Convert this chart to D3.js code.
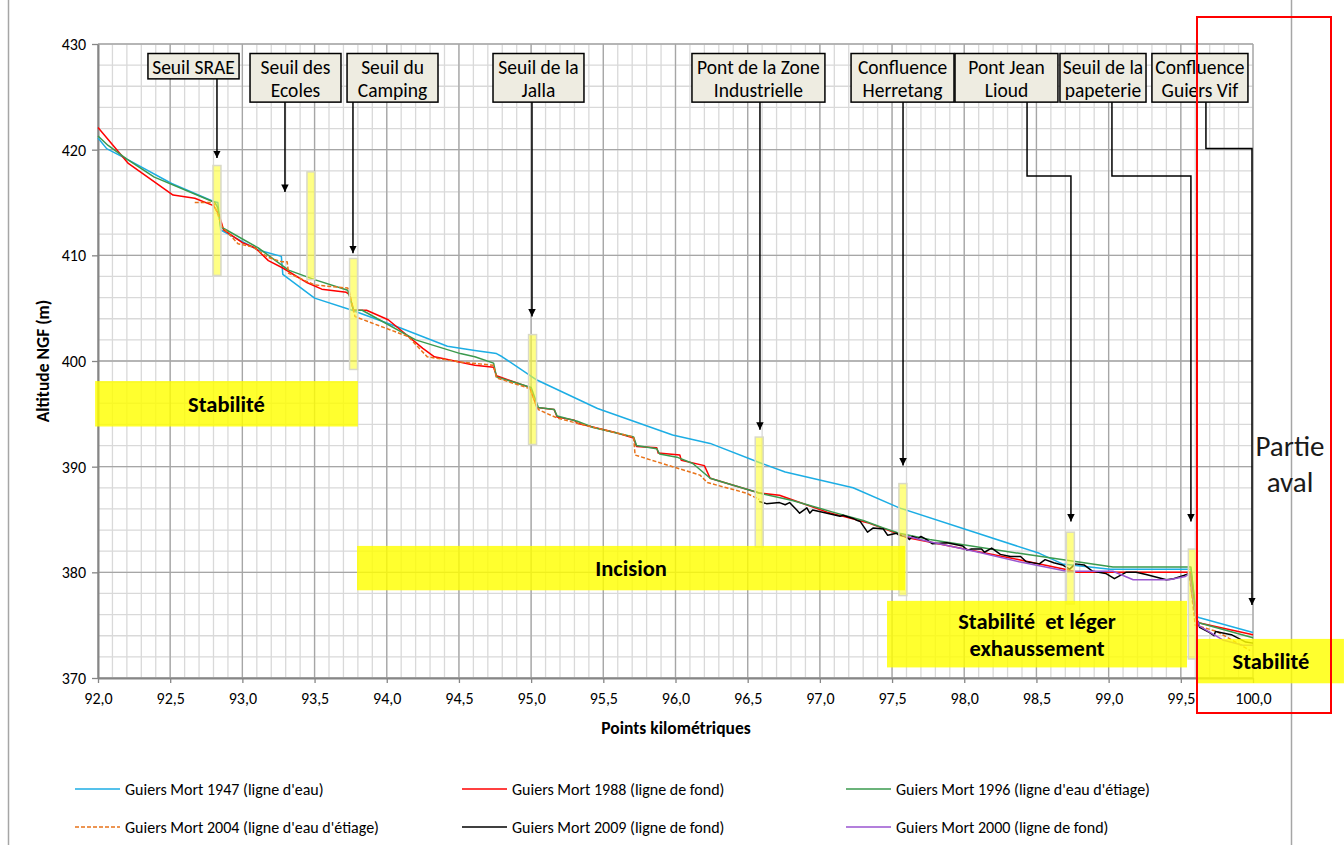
<!DOCTYPE html>
<html>
<head>
<meta charset="utf-8">
<script src="https://cdn.jsdelivr.net/npm/d3@7"></script>
<style>
  html, body { margin: 0; padding: 0; background: #fff; }
  svg { display: block; font-family: Carlito, Calibri, Lato, "Open Sans", sans-serif; }
</style>
</head>
<body>
<svg id="chart" width="1344" height="845"></svg>
<script>
// Longitudinal profile of the Guiers Mort: [km, altitude NGF (m)]
const s1947 = [[92.00,421.1],[92.06,420.1],[92.20,419.1],[92.51,416.8],[92.80,415.1],[92.83,415.0],[92.85,412.4],[92.89,412.1],[93.11,410.5],[93.27,409.9],[93.28,408.2],[93.50,405.95],[93.76,404.8],[94.10,403.1],[94.42,401.4],[94.61,401.0],[94.76,400.7],[94.80,400.4],[95.04,398.2],[95.46,395.5],[95.98,393.0],[96.24,392.2],[96.58,390.4],[96.76,389.5],[97.23,388.0],[97.55,386.1],[98.52,381.8],[98.68,380.8],[99.01,380.3],[99.57,380.3],[99.61,375.8],[99.63,375.7],[100.0,374.3]];
const s1988 = [[92.00,422.1],[92.21,418.7],[92.52,415.7],[92.67,415.4],[92.80,414.7],[92.84,413.8],[92.87,412.4],[93.00,411.2],[93.09,410.7],[93.18,409.5],[93.28,408.8],[93.45,407.4],[93.55,406.8],[93.72,406.5],[93.74,406.3],[93.77,404.8],[93.86,404.8],[94.01,403.9],[94.25,401.2],[94.33,400.4],[94.61,399.6],[94.74,399.4],[94.76,398.6],[94.99,397.5],[95.04,395.6],[95.16,395.4],[95.18,394.7],[95.30,394.4],[95.32,394.1],[95.59,393.2],[95.71,392.7],[95.73,391.9],[95.87,391.8],[95.88,391.3],[96.03,391.1],[96.04,390.6],[96.20,390.1],[96.24,388.9],[96.36,388.4],[96.58,387.5],[96.72,387.3],[97.05,385.7],[97.33,384.7],[97.55,383.6],[97.60,383.3],[98.38,381.2],[98.73,380.2],[98.78,380.0],[99.57,380.0],[99.61,375.4],[99.63,375.2],[100.0,374.1]];
const s1996 = [[92.00,421.3],[92.07,420.4],[92.20,419.1],[92.39,417.4],[92.81,415.0],[92.83,414.5],[92.85,412.7],[92.89,412.4],[93.11,410.7],[93.32,408.6],[93.50,407.7],[93.73,406.7],[93.77,404.8],[93.83,404.8],[94.20,402.0],[94.51,400.7],[94.61,400.4],[94.74,399.8],[94.76,398.5],[95.00,397.5],[95.05,395.6],[95.16,395.4],[95.18,394.8],[95.32,394.3],[95.43,393.7],[95.71,392.8],[95.73,392.0],[95.87,391.7],[95.89,391.2],[96.01,390.9],[96.12,390.3],[96.24,388.9],[96.36,388.4],[96.58,387.5],[96.81,386.8],[97.09,385.7],[97.30,384.9],[97.44,384.2],[97.55,383.7],[97.76,383.1],[98.38,381.8],[99.03,380.5],[99.57,380.5],[99.61,375.4],[99.63,375.2],[100.0,373.8]];
const s2004 = [[92.67,415.0],[92.80,415.0],[92.86,412.7],[92.97,411.1],[93.07,410.8],[93.18,409.8],[93.27,409.4],[93.31,409.4],[93.32,408.3],[93.50,407.2],[93.73,406.9],[93.74,406.6],[93.78,404.2],[94.15,402.3],[94.28,400.4],[94.51,399.9],[94.74,399.6],[94.76,398.4],[94.99,397.4],[95.05,395.4],[95.18,394.6],[95.32,394.1],[95.71,392.8],[95.72,391.1],[95.98,390.0],[96.17,389.2],[96.22,388.5],[96.49,387.5],[96.58,386.9],[96.60,null],[99.55,null],[99.56,379.6],[99.60,375.0],[99.75,374.4],[99.98,372.6]];
const s2009 = [[96.58,386.7],[96.63,386.5],[96.72,386.6],[96.76,386.4],[96.79,386.6],[96.84,385.9],[96.86,385.6],[96.91,386.1],[96.93,385.6],[96.95,385.9],[97.05,385.6],[97.14,385.3],[97.16,385.4],[97.23,385.1],[97.26,384.9],[97.28,384.8],[97.33,383.8],[97.37,384.2],[97.44,384.1],[97.47,383.5],[97.53,383.7],[97.55,383.5],[97.60,383.4],[97.62,383.1],[97.64,383.4],[97.68,383.2],[97.70,383.4],[97.74,383.1],[97.78,382.7],[97.88,382.8],[97.99,382.5],[98.02,382.1],[98.05,382.2],[98.12,382.2],[98.14,381.9],[98.19,382.3],[98.25,381.7],[98.32,381.5],[98.39,381.5],[98.43,381.0],[98.52,380.8],[98.56,381.2],[98.62,380.9],[98.68,380.7],[98.73,380.3],[98.77,380.8],[98.83,380.7],[98.89,380.1],[98.98,379.9],[99.04,379.4],[99.12,380.0],[99.19,380.0],[99.26,379.8],[99.40,379.3],[99.45,379.4],[99.52,379.7],[99.56,379.9],[99.60,376.0],[99.63,374.8],[99.70,374.3],[99.73,374.0],[99.74,374.4],[99.85,374.1],[99.95,373.4],[100.0,373.3]];
const s2000 = [[97.57,383.5],[97.76,382.9],[98.10,381.9],[98.38,381.0],[98.71,380.1],[99.03,380.1],[99.10,379.7],[99.17,379.3],[99.42,379.3],[99.53,379.6],[99.56,379.9],[99.60,376.0],[99.63,374.9],[99.79,373.6],[99.93,373.1],[100.0,373.1]];

const seriesNames = ["Guiers Mort 1947 (ligne d'eau)", "Guiers Mort 1988 (ligne de fond)", "Guiers Mort 1996 (ligne d'eau d'étiage)",
                     "Guiers Mort 2004 (ligne d'eau d'étiage)", "Guiers Mort 2009 (ligne de fond)", "Guiers Mort 2000 (ligne de fond)"];
const seriesData = [s1947, s1988, s1996, s2004, s2009, s2000];
const seriesColors = ["#1CADE4", "#FF0000", "#3A9A4E", "#E8731A", "#000000", "#9A55D0"];
const seriesDash = [null, null, null, "4,2", null, null];

// Axis ticks
const xMajor = d3.range(92, 100.001, 0.5);
const xMinor = d3.range(92, 100.001, 0.1);
const yMajor = d3.range(370, 430.001, 10);
const yMinor = d3.range(370, 430.001, 2);

// Named sites along the river: label lines, box extent (km, altitude), connector path
const sites = [
  { lines: ["Seuil SRAE"], x0: 92.346, x1: 92.977, y0: 429.1, y1: 426.7, path: [[92.824, 426.7], [92.824, 419.2]] },
  { lines: ["Seuil des", "Ecoles"], x0: 93.053, x1: 93.683, y0: 429.1, y1: 424.5, path: [[93.295, 424.5], [93.295, 416.0]] },
  { lines: ["Seuil du", "Camping"], x0: 93.725, x1: 94.355, y0: 429.1, y1: 424.5, path: [[93.766, 424.5], [93.766, 410.2]] },
  { lines: ["Seuil de la", "Jalla"], x0: 94.736, x1: 95.366, y0: 429.1, y1: 424.5, path: [[95.006, 424.5], [95.006, 404.2]] },
  { lines: ["Pont de la Zone", "Industrielle"], x0: 96.114, x1: 97.035, y0: 429.1, y1: 424.5, path: [[96.585, 424.5], [96.585, 393.5]] },
  { lines: ["Confluence", "Herretang"], x0: 97.216, x1: 97.929, y0: 429.1, y1: 424.5, path: [[97.576, 424.5], [97.576, 390.1]] },
  { lines: ["Pont Jean", "Lioud"], x0: 97.936, x1: 98.649, y0: 429.1, y1: 424.5, path: [[98.435, 424.5], [98.435, 417.5], [98.739, 417.5], [98.739, 384.8]] },
  { lines: ["Seuil de la", "papeterie"], x0: 98.663, x1: 99.259, y0: 429.1, y1: 424.5, path: [[99.023, 424.5], [99.023, 417.5], [99.570, 417.5], [99.570, 384.8]] },
  { lines: ["Confluence", "Guiers Vif"], x0: 99.300, x1: 99.965, y0: 429.1, y1: 424.5, path: [[99.674, 424.5], [99.674, 420.1], [99.993, 420.1], [99.993, 376.9]] }
];

// Structure markers: [km, top altitude, bottom altitude]
const weirs = [[92.824, 418.5, 408.1], [93.475, 417.9, 407.7], [93.77, 409.7, 399.2], [95.01, 402.5, 392.1],
               [96.58, 392.8, 382.4], [97.575, 388.4, 377.8], [98.735, 383.8, 377.0], [99.58, 382.2, 371.8]];

// Reach diagnosis zones: extent in km / altitude and text lines
const zones = [
  { lines: ["Stabilité"], x0: 91.98, x1: 93.80, y0: 398.1, y1: 393.8 },
  { lines: ["Incision"], x0: 93.794, x1: 97.59, y0: 382.5, y1: 378.3 },
  { lines: ["Stabilité  et léger", "exhaussement"], x0: 97.465, x1: 99.543, y0: 377.3, y1: 371.0 },
  { lines: ["Stabilité"], x0: 99.619, x1: 100.63, y0: 373.7, y1: 369.5 }
];

const svg = d3.select("#chart");
const x = d3.scaleLinear().domain([92, 100]).range([98, 1253]);
const y = d3.scaleLinear().domain([370, 430]).range([678, 44]);
const fmt = v => d3.format(".1f")(v).replace(".", ",");

// Chart frame sides
svg.append("line").attr("x1", 8.5).attr("x2", 8.5).attr("y1", 0).attr("y2", 845).attr("stroke", "#a6a6a6").attr("stroke-width", 1.5);
svg.append("line").attr("x1", 1291.5).attr("x2", 1291.5).attr("y1", 0).attr("y2", 845).attr("stroke", "#a6a6a6").attr("stroke-width", 1.5);

// Grid
const grid = svg.append("g");
grid.selectAll(".vmin").data(xMinor).join("line")
  .attr("x1", d => x(d)).attr("x2", d => x(d)).attr("y1", y(430)).attr("y2", y(370))
  .attr("stroke", "#d9d9d9").attr("stroke-width", 1.3);
grid.selectAll(".hmin").data(yMinor).join("line")
  .attr("x1", x(92)).attr("x2", x(100)).attr("y1", d => y(d)).attr("y2", d => y(d))
  .attr("stroke", "#d9d9d9").attr("stroke-width", 1.3);
grid.selectAll(".vmaj").data(xMajor).join("line")
  .attr("x1", d => x(d)).attr("x2", d => x(d)).attr("y1", y(430)).attr("y2", y(370))
  .attr("stroke", "#a6a6a6").attr("stroke-width", 1.3);
grid.selectAll(".hmaj").data(yMajor).join("line")
  .attr("x1", x(92)).attr("x2", x(100)).attr("y1", d => y(d)).attr("y2", d => y(d))
  .attr("stroke", "#a6a6a6").attr("stroke-width", 1.3);

// Axes
const xAxis = svg.append("g").attr("transform", `translate(0,${y(370)})`)
  .call(d3.axisBottom(x).tickValues(xMajor).tickFormat(fmt).tickSize(5).tickSizeOuter(0));
const yAxis = svg.append("g").attr("transform", `translate(${x(92)},0)`)
  .call(d3.axisLeft(y).tickValues(yMajor).tickFormat(d3.format("d")).tickSize(6).tickSizeOuter(0));
[xAxis, yAxis].forEach(a => {
  a.select(".domain").attr("stroke", "#868686").attr("stroke-width", 2);
  a.selectAll(".tick line").attr("stroke", "#868686").attr("stroke-width", 1.3);
  a.selectAll("text").attr("font-size", 16).attr("fill", "#000").attr("font-family", "Carlito, Calibri, Lato, sans-serif");
});
xAxis.selectAll("text").attr("y", 20).attr("dy", "0.35em");
yAxis.selectAll("text").attr("x", -12).attr("dy", "0.35em");

svg.append("text").attr("x", 676).attr("y", 734).attr("text-anchor", "middle")
  .attr("font-size", 17.5).attr("font-weight", "bold").text("Points kilométriques");
svg.append("text").attr("transform", `translate(49,${y(400)}) rotate(-90)`).attr("text-anchor", "middle")
  .attr("font-size", 17.5).attr("font-weight", "bold").text("Altitude NGF (m)");

// Profiles
const line = d3.line().defined(d => d[1] !== null).x(d => x(d[0])).y(d => y(d[1]));
const lines = svg.append("g").attr("fill", "none");
seriesData.forEach((s, i) => {
  lines.append("path").datum(s).attr("d", line)
    .attr("stroke", seriesColors[i]).attr("stroke-width", 1.5)
    .attr("stroke-dasharray", seriesDash[i]).attr("stroke-linejoin", "round");
});

// Structure markers
svg.append("g").selectAll("rect").data(weirs).join("rect")
  .attr("x", d => x(d[0]) - 4).attr("width", 8)
  .attr("y", d => y(d[1])).attr("height", d => y(d[2]) - y(d[1]))
  .attr("fill", "#ffff33").attr("fill-opacity", 0.6)
  .attr("stroke", "#d9d9c8").attr("stroke-width", 1.5);

// Diagnosis zones
const zg = svg.append("g");
zones.forEach(z => {
  const x0 = x(z.x0), x1 = Math.min(x(z.x1), 1344), y0 = y(z.y0), y1 = y(z.y1);
  zg.append("rect").attr("x", x0).attr("y", y0).attr("width", x1 - x0).attr("height", y1 - y0)
    .attr("fill", "#ffff00").attr("fill-opacity", 0.82);
  const cx = (x(z.x0) + x(z.x1)) / 2, cy = (y0 + y1) / 2;
  const n = z.lines.length;
  z.lines.forEach((t, k) => {
    zg.append("text").attr("x", cx).attr("y", cy + (k - (n - 1) / 2) * 27).attr("dy", "0.35em")
      .attr("text-anchor", "middle").attr("font-size", 22.5).attr("font-weight", "bold")
      .attr("xml:space", "preserve").style("white-space", "pre").text(t);
  });
});

// Arrow marker
svg.append("defs").append("marker").attr("id", "arrow")
  .attr("viewBox", "0 0 10 10").attr("refX", 10).attr("refY", 5)
  .attr("markerWidth", 5).attr("markerHeight", 5).attr("markerUnits", "strokeWidth")
  .attr("orient", "auto")
  .append("path").attr("d", "M0,0 L10,5 L0,10 z").attr("fill", "#000");

// Site labels and connectors
const sg = svg.append("g");
const conn = d3.line().x(d => x(d[0])).y(d => y(d[1]));
sites.forEach(s => {
  sg.append("path").attr("d", conn(s.path)).attr("fill", "none")
    .attr("stroke", "#000").attr("stroke-width", 1.5).attr("marker-end", "url(#arrow)");
});
sites.forEach(s => {
  const x0 = x(s.x0), x1 = x(s.x1), y0 = y(s.y0), y1 = y(s.y1);
  sg.append("rect").attr("x", x0).attr("y", y0).attr("width", x1 - x0).attr("height", y1 - y0)
    .attr("fill", "#EEECE1").attr("stroke", "#000").attr("stroke-width", 1.5);
  s.lines.forEach((t, k) => {
    sg.append("text").attr("x", (x0 + x1) / 2).attr("y", y0 + 13.5 + k * 23).attr("dy", "0.35em")
      .attr("text-anchor", "middle").attr("font-size", 19.5).text(t);
  });
});

// Downstream reach frame
svg.append("rect").attr("x", 1197).attr("y", 17).attr("width", 134).attr("height", 696)
  .attr("fill", "none").attr("stroke", "#ff0000").attr("stroke-width", 2);
svg.append("text").attr("x", 1290).attr("y", 446).attr("dy", "0.35em").attr("text-anchor", "middle")
  .attr("font-size", 29).attr("fill", "#1a1a1a").text("Partie");
svg.append("text").attr("x", 1290).attr("y", 482).attr("dy", "0.35em").attr("text-anchor", "middle")
  .attr("font-size", 29).attr("fill", "#1a1a1a").text("aval");

// Legend
const legendCols = [75, 462, 846];
const legendRows = [789, 827];
const lg = svg.append("g");
seriesNames.forEach((name, i) => {
  const lx = legendCols[i % 3], ly = legendRows[Math.floor(i / 3)];
  lg.append("line").attr("x1", lx).attr("x2", lx + 45).attr("y1", ly).attr("y2", ly)
    .attr("stroke", seriesColors[i]).attr("stroke-width", 1.5).attr("stroke-dasharray", seriesDash[i]);
  lg.append("text").attr("x", lx + 50).attr("y", ly).attr("dy", "0.35em")
    .attr("font-size", 16).text(name);
});
</script>
</body>
</html>
